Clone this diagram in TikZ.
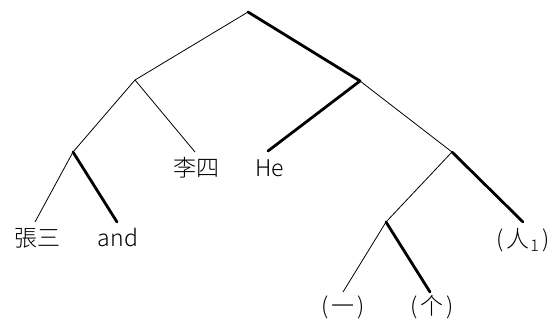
\documentclass[tikz,border=0pt]{standalone}
\usepackage{fontspec}
\setmainfont{Noto Sans CJK SC Light}
\newcommand{\pw}[1]{(\kern3pt#1\kern3pt)}
\begin{document}
\begin{tikzpicture}[x=1pt,y=-1pt,
  thin edge/.style={line width=0.8pt,black},
  thick edge/.style={line width=2.8pt,black,line cap=round},
  leaf/.style={inner sep=0pt,font=\fontsize{23}{23}\selectfont}]
\useasboundingbox (0,0) rectangle (555,322);
% junctions
\coordinate (r) at (248,12);
\coordinate (l) at (135,80);
\coordinate (rr) at (360,81);
\coordinate (a) at (73,152);
\coordinate (b) at (452,152);
\coordinate (c) at (386,222);
% line ends
\coordinate (e1) at (35,222);
\coordinate (e2) at (117,222);
\coordinate (e3) at (195,152);
\coordinate (e4) at (268,151);
\coordinate (e5) at (523,222);
\coordinate (e6) at (343,292);
\coordinate (e7) at (430,292);
% labels
\node[leaf] (zs) at (37,238) {張三};
\node[leaf] (and) at (118,238) {and};
\node[leaf] (ls) at (196,168) {李四};
\node[leaf] (he) at (270,168) {He};
\node[leaf] (ren) at (523,240) {\pw{人\kern1pt\textsubscript{1}}};
\node[leaf] (yi) at (343,307) {\pw{一}};
\node[leaf] (ge) at (432,307) {\pw{个}};
% edges
\draw[thin edge] (r) -- (l);
\draw[thick edge] (r) -- (rr);
\draw[thin edge] (l) -- (a);
\draw[thin edge] (l) -- (e3);
\draw[thin edge] (a) -- (e1);
\draw[thick edge] (a) -- (e2);
\draw[thick edge] (rr) -- (e4);
\draw[thin edge] (rr) -- (b);
\draw[thin edge] (b) -- (c);
\draw[thick edge] (b) -- (e5);
\draw[thin edge] (c) -- (e6);
\draw[thick edge] (c) -- (e7);
\end{tikzpicture}
\end{document}
